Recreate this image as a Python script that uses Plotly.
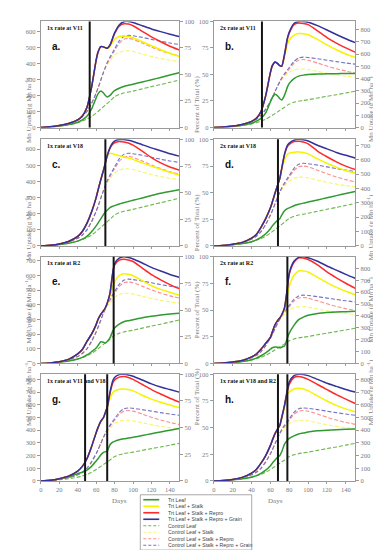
import plotly.graph_objects as go

W, H = 381, 550

DAYS = [0, 10, 20, 30, 40, 45, 50, 55, 60, 62, 65, 68, 70, 72, 75, 78, 80, 85, 90, 95, 100, 110, 120, 130, 140, 150]

# Control (same in every panel)
CTRL_LEAF = [0, 3, 9, 17, 30, 40, 52, 68, 90, 100, 115, 130, 140, 150, 165, 182, 192, 206, 215, 221, 227, 241, 255, 268, 282, 296]
CTRL_STALK = [0, 4, 12, 25, 48, 68, 100, 150, 215, 245, 295, 345, 370, 392, 415, 440, 452, 470, 478, 478, 474, 458, 443, 430, 420, 412]
CTRL_REPRO = [0, 4, 12, 25, 48, 68, 100, 150, 215, 245, 295, 345, 375, 400, 430, 460, 478, 525, 550, 555, 550, 527, 502, 480, 461, 446]
CTRL_GRAIN = [0, 4, 12, 25, 48, 68, 100, 150, 215, 245, 295, 345, 375, 405, 440, 470, 490, 540, 568, 575, 572, 562, 550, 538, 527, 518]

# a. 1x rate at V11
A_LEAF = [0, 3, 9, 18, 33, 48, 70, 115, 185, 210, 228, 215, 200, 190, 200, 220, 230, 245, 256, 263, 270, 284, 298, 312, 327, 342]
A_STALK = [0, 4, 12, 25, 48, 72, 125, 250, 420, 470, 505, 503, 498, 494, 505, 535, 550, 568, 571, 568, 560, 535, 510, 485, 463, 443]
A_REPRO = [0, 4, 12, 25, 48, 72, 125, 250, 420, 470, 505, 503, 498, 494, 512, 555, 585, 632, 647, 645, 635, 600, 565, 535, 507, 484]
A_GRAIN = [0, 4, 12, 25, 48, 72, 125, 250, 420, 470, 505, 503, 498, 494, 515, 560, 590, 640, 660, 662, 655, 635, 615, 598, 582, 568]
# b. 2x rate at V11
B_LEAF = [0, 3, 9, 18, 35, 52, 75, 120, 210, 245, 272, 255, 235, 225, 265, 330, 360, 400, 420, 428, 433, 437, 439, 440, 441, 441]
B_STALK = [0, 4, 12, 25, 50, 75, 130, 260, 450, 505, 535, 520, 505, 500, 580, 680, 715, 755, 768, 766, 758, 720, 675, 635, 600, 573]
B_REPRO = [0, 4, 12, 25, 50, 75, 130, 260, 450, 505, 535, 520, 505, 500, 595, 720, 770, 840, 854, 850, 840, 790, 735, 690, 650, 616]
B_GRAIN = [0, 4, 12, 25, 50, 75, 130, 260, 450, 505, 535, 520, 505, 500, 600, 730, 780, 850, 866, 867, 860, 832, 797, 760, 725, 693]
# c. 1x rate at V18
C_LEAF = [0, 3, 9, 17, 30, 42, 60, 88, 125, 142, 168, 195, 210, 222, 238, 246, 250, 260, 268, 276, 283, 298, 313, 327, 338, 348]
C_STALK = [0, 4, 12, 28, 60, 90, 140, 210, 300, 345, 410, 470, 515, 555, 575, 572, 568, 560, 552, 545, 537, 515, 495, 475, 457, 440]
C_REPRO = [0, 4, 12, 28, 60, 90, 140, 210, 300, 345, 410, 470, 515, 558, 605, 630, 640, 648, 645, 638, 625, 588, 548, 515, 490, 471]
C_GRAIN = [0, 4, 12, 28, 60, 90, 140, 210, 300, 345, 410, 470, 515, 560, 610, 640, 650, 660, 660, 655, 648, 628, 608, 590, 572, 557]
# d. 2x rate at V18
D_LEAF = [0, 3, 9, 17, 30, 42, 60, 85, 120, 140, 162, 180, 190, 215, 245, 260, 265, 280, 290, 298, 305, 320, 335, 350, 364, 378]
D_STALK = [0, 4, 12, 25, 55, 80, 130, 190, 265, 305, 370, 430, 468, 530, 600, 635, 645, 652, 654, 650, 640, 605, 575, 548, 525, 505]
D_REPRO = [0, 4, 12, 25, 55, 80, 130, 190, 265, 305, 370, 430, 470, 538, 635, 690, 705, 725, 728, 722, 710, 660, 620, 585, 555, 532]
D_GRAIN = [0, 4, 12, 25, 55, 80, 130, 190, 265, 305, 370, 430, 470, 540, 640, 700, 715, 735, 741, 738, 730, 700, 675, 650, 630, 612]
# e. 1x rate at R2
E_LEAF = [0, 3, 9, 17, 30, 42, 58, 80, 105, 122, 148, 145, 139, 150, 175, 220, 242, 268, 285, 292, 298, 312, 322, 330, 337, 342]
E_STALK = [0, 4, 12, 28, 65, 95, 150, 200, 265, 300, 335, 360, 378, 405, 460, 520, 555, 600, 611, 608, 598, 565, 530, 505, 485, 465]
E_REPRO = [0, 4, 12, 28, 65, 95, 150, 200, 265, 300, 335, 360, 380, 410, 478, 615, 670, 705, 711, 706, 695, 650, 605, 570, 538, 510]
E_GRAIN = [0, 4, 12, 28, 65, 95, 150, 200, 265, 300, 335, 360, 380, 410, 480, 620, 680, 718, 727, 722, 712, 685, 655, 630, 607, 588]
# f. 2x rate at R2
F_LEAF = [0, 3, 9, 17, 32, 45, 65, 90, 120, 132, 139, 136, 133, 137, 147, 215, 255, 320, 369, 390, 405, 420, 428, 433, 436, 439]
F_STALK = [0, 4, 12, 25, 55, 80, 120, 170, 220, 265, 328, 365, 380, 405, 450, 570, 650, 740, 778, 778, 770, 725, 680, 640, 608, 578]
F_REPRO = [0, 4, 12, 25, 55, 80, 120, 170, 220, 265, 328, 365, 383, 410, 470, 635, 750, 850, 889, 886, 875, 830, 770, 720, 675, 633]
F_GRAIN = [0, 4, 12, 25, 55, 80, 120, 170, 220, 265, 328, 365, 383, 410, 470, 640, 760, 860, 893, 897, 890, 860, 820, 785, 750, 717]
# g. 1x rate at V11 and V18
G_LEAF = [0, 4, 15, 30, 58, 68, 85, 115, 158, 175, 205, 225, 230, 235, 285, 305, 312, 324, 332, 338, 344, 358, 372, 386, 400, 414]
G_STALK = [0, 5, 18, 38, 78, 115, 175, 270, 380, 420, 470, 500, 538, 575, 650, 695, 708, 722, 725, 720, 710, 675, 645, 620, 598, 578]
G_REPRO = [0, 5, 18, 38, 78, 115, 175, 270, 380, 420, 470, 500, 540, 580, 690, 770, 795, 818, 822, 815, 800, 760, 720, 685, 652, 622]
G_GRAIN = [0, 5, 18, 38, 78, 115, 175, 270, 380, 420, 470, 500, 540, 583, 700, 790, 815, 838, 840, 835, 825, 795, 765, 740, 720, 700]
# h. 1x rate at V18 and R2
H_LEAF = [0, 3, 9, 17, 30, 42, 60, 85, 120, 140, 165, 190, 200, 230, 290, 320, 335, 355, 370, 377, 385, 395, 400, 404, 407, 410]
H_STALK = [0, 4, 12, 28, 62, 90, 140, 200, 280, 320, 375, 412, 435, 490, 580, 680, 700, 725, 730, 725, 712, 670, 630, 595, 568, 545]
H_REPRO = [0, 4, 12, 28, 62, 90, 140, 200, 280, 320, 375, 415, 440, 498, 595, 705, 760, 815, 822, 815, 800, 760, 720, 680, 645, 610]
H_GRAIN = [0, 4, 12, 28, 62, 90, 140, 200, 280, 320, 375, 415, 440, 500, 600, 720, 780, 830, 840, 838, 830, 800, 770, 745, 720, 700]

PANEL_TITLES = ["1x rate at V11", "2x rate at V11", "1x rate at V18", "2x rate at V18",
                "1x rate at R2", "2x rate at R2", "1x rate at V11 and V18", "1x rate at V18 and R2"]
PANEL_LETTERS = ["a.", "b.", "c.", "d.", "e.", "f.", "g.", "h."]
PANEL_MAX = [662, 867, 661, 741, 727, 897, 840, 840]
APPLICATION_DAYS = [[53], [51], [70], [68], [79], [78], [48, 72], [68, 78]]
TRT = [
    [A_LEAF, A_STALK, A_REPRO, A_GRAIN],
    [B_LEAF, B_STALK, B_REPRO, B_GRAIN],
    [C_LEAF, C_STALK, C_REPRO, C_GRAIN],
    [D_LEAF, D_STALK, D_REPRO, D_GRAIN],
    [E_LEAF, E_STALK, E_REPRO, E_GRAIN],
    [F_LEAF, F_STALK, F_REPRO, F_GRAIN],
    [G_LEAF, G_STALK, G_REPRO, G_GRAIN],
    [H_LEAF, H_STALK, H_REPRO, H_GRAIN],
]
CTRL = [CTRL_LEAF, CTRL_STALK, CTRL_REPRO, CTRL_GRAIN]

TRT_NAMES = ["Trt Leaf", "Trt Leaf + Stalk", "Trt Leaf + Stalk + Repro", "Trt Leaf + Stalk + Repro + Grain"]
CTRL_NAMES = ["Control Leaf", "Control Leaf + Stalk", "Control Leaf + Stalk + Repro", "Control Leaf + Stalk + Repro + Grain"]
TRT_COLORS = ["#2f9a2f", "#f4f400", "#ff2a2a", "#32329a"]
CTRL_COLORS = ["#6cb84a", "#f6f66a", "#ff8c8c", "#7474c8"]

SERIF = "Liberation Serif"
SANS = "Liberation Sans"
GRAY = "#7a7a7a"
AXC = "#9a9a9a"

COL_X = [(31, 170), (205, 347)]
ROW_Y = [(9.5, 117), (129, 237), (248, 356), (367, 475)]


def px(x):
    return x / W


def py(y):
    return 1 - y / H


def sfx(n):
    return "" if n == 1 else str(n)


fig = go.Figure()
layout = dict(width=W, height=H, margin=dict(l=0, r=0, t=0, b=0),
              paper_bgcolor="white", plot_bgcolor="white", showlegend=False)
shapes = []
annotations = []

for k in range(8):
    r, c = divmod(k, 2)
    x0, x1 = COL_X[c]
    ytop, ybot = ROW_Y[r]
    xn = k + 1
    ymn = 2 * k + 1
    ypc = 2 * k + 2
    xref = "x" + sfx(xn)
    yref_mn = "y" + sfx(ymn)
    yref_pc = "y" + sfx(ypc)

    layout["xaxis" + sfx(xn)] = dict(
        domain=[px(x0), px(x1)], anchor=yref_mn, range=[0, 150], dtick=20, tick0=0,
        showline=True, linecolor=AXC, linewidth=1, mirror=True,
        ticks="outside", ticklen=2, tickcolor=AXC, showgrid=False, zeroline=False,
        showticklabels=(r == 3), tickfont=dict(family=SERIF, size=6.5, color=GRAY),
    )
    layout["yaxis" + sfx(ymn)] = dict(
        domain=[py(ybot), py(ytop)], anchor=xref, range=[0, PANEL_MAX[k]], dtick=100,
        side="left" if c == 0 else "right",
        showline=True, linecolor=AXC, linewidth=1,
        ticks="outside", ticklen=3, tickcolor=AXC, showgrid=False, zeroline=False,
        tickfont=dict(family=SERIF, size=6.5, color=GRAY),
    )
    layout["yaxis" + sfx(ypc)] = dict(
        overlaying=yref_mn, anchor=xref, range=[0, 100], dtick=25,
        side="right" if c == 0 else "left",
        showline=True, linecolor=AXC, linewidth=1,
        ticks="outside", ticklen=3, tickcolor=AXC, showgrid=False, zeroline=False,
        tickfont=dict(family=SERIF, size=6.5, color=GRAY),
    )

    for vals, color in zip(CTRL, CTRL_COLORS):
        fig.add_trace(go.Scatter(x=DAYS, y=vals, xaxis=xref, yaxis=yref_mn, mode="lines",
                                 line=dict(color=color, width=1.1, dash="4px,2px", shape="spline", smoothing=0.6),
                                 hoverinfo="skip"))
    for vals, color in zip(TRT[k], TRT_COLORS):
        fig.add_trace(go.Scatter(x=DAYS, y=vals, xaxis=xref, yaxis=yref_mn, mode="lines",
                                 line=dict(color=color, width=1.5, shape="spline", smoothing=0.6),
                                 hoverinfo="skip"))
    fig.add_trace(go.Scatter(x=[None], y=[None], xaxis=xref, yaxis=yref_pc, mode="lines",
                             hoverinfo="skip"))

    for d in APPLICATION_DAYS[k]:
        shapes.append(dict(type="line", xref=xref, yref=yref_mn + " domain", x0=d, x1=d, y0=0, y1=1,
                           line=dict(color="#151515", width=2), layer="above"))

    annotations.append(dict(text="<b>" + PANEL_TITLES[k] + "</b>", xref="paper", yref="paper",
                            x=px(x0 + 4), y=py(ytop + 6.5), xanchor="left", yanchor="middle", showarrow=False,
                            font=dict(family=SERIF, size=6, color="#111")))
    annotations.append(dict(text="<b>" + PANEL_LETTERS[k] + "</b>", xref="paper", yref="paper",
                            x=px(x0 + 9), y=py(ytop + 25), xanchor="left", yanchor="middle", showarrow=False,
                            font=dict(family=SANS, size=10, color="#111")))

for r in range(4):
    ytop, ybot = ROW_Y[r]
    yc = py((ytop + ybot) / 2)
    annotations.append(dict(text="Mn Uptake (g Mn ha<sup>-1</sup>)", xref="paper", yref="paper",
                            x=px(12), y=yc, textangle=-90, showarrow=False,
                            font=dict(family=SERIF, size=7, color=GRAY)))
    annotations.append(dict(text="Percent of Total (%)", xref="paper", yref="paper",
                            x=px(188), y=yc, textangle=-90, showarrow=False,
                            font=dict(family=SERIF, size=7, color=GRAY)))
    annotations.append(dict(text="Mn Uptake (g Mn ha<sup>-1</sup>)", xref="paper", yref="paper",
                            x=px(369), y=yc, textangle=-90, showarrow=False,
                            font=dict(family=SERIF, size=7, color=GRAY)))

for c in range(2):
    x0, x1 = COL_X[c]
    annotations.append(dict(text="Days", xref="paper", yref="paper", x=px((x0 + x1) / 2), y=py(495),
                            yanchor="middle", showarrow=False, font=dict(family=SERIF, size=7, color=GRAY)))

# legend box (drawn manually)
shapes.append(dict(type="rect", xref="paper", yref="paper", x0=px(131), x1=px(243), y0=py(545), y1=py(489),
                   line=dict(color="#aaaaaa", width=1), fillcolor="white", layer="above"))
names = TRT_NAMES + CTRL_NAMES
colors = TRT_COLORS + CTRL_COLORS
for i, (nm, col) in enumerate(zip(names, colors)):
    yy = py(494 + i * 6.6)
    shapes.append(dict(type="line", xref="paper", yref="paper", x0=px(134), x1=px(150), y0=yy, y1=yy,
                       line=dict(color=col, width=1.6 if i < 4 else 1.1, dash="solid" if i < 4 else "3px,2px"),
                       layer="above"))
    annotations.append(dict(text=nm, xref="paper", yref="paper", x=px(157), y=yy, xanchor="left",
                            yanchor="middle", showarrow=False, font=dict(family=SANS, size=5.2, color="#444")))

layout["shapes"] = shapes
layout["annotations"] = annotations
fig.update_layout(**layout)
fig.write_html("out.html")
